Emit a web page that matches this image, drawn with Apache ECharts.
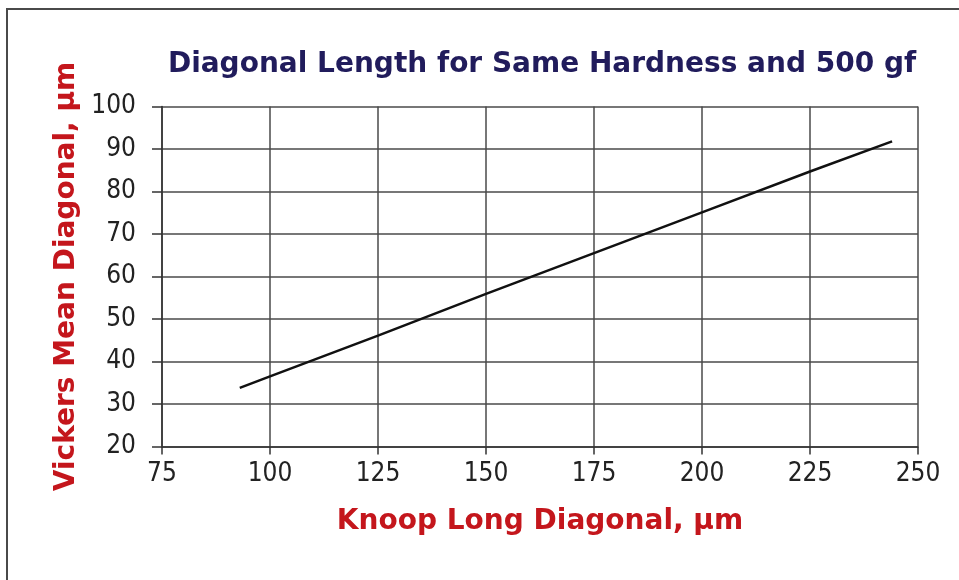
<!DOCTYPE html>
<html>
<head>
<meta charset="utf-8">
<script src="https://cdn.jsdelivr.net/npm/echarts@6/dist/echarts.min.js"></script>
<style>
  html, body { margin: 0; padding: 0; background: #fff; overflow: hidden; }
  #frame {
    position: absolute; left: 6px; top: 8px;
    width: 1000px; height: 1000px;
    border-left: 2px solid #4a4a4a; border-top: 2px solid #4a4a4a;
  }
  #chart { position: absolute; left: 0; top: 0; width: 959px; height: 580px; }
</style>
</head>
<body>
<div id="frame"></div>
<div id="chart"></div>
<script>
// Knoop long diagonal (x) vs Vickers mean diagonal (y), both in µm
var knoop = [93, 100, 125, 150, 175, 200, 225, 244];
var vickers = [33.8, 36.5, 46.1, 55.9, 65.5, 75.1, 84.7, 91.8];

var xTicks = [75, 100, 125, 150, 175, 200, 225, 250];
var yTicks = [20, 30, 40, 50, 60, 70, 80, 90, 100];

var chart = echarts.init(document.getElementById("chart"));

var points = knoop.map(function (k, i) { return [k, vickers[i]]; });

var labelFont = "'DejaVu Sans Condensed', 'Liberation Sans', sans-serif";
var gridLine = { show: true, lineStyle: { color: "#4a4a4a", width: 1.5 } };

var option = {
  animation: false,
  backgroundColor: "transparent",
  title: {
    text: "Diagonal Length for Same Hardness and 500 gf",
    left: 537,
    top: 46,
    textAlign: "center",
    textStyle: {
      fontFamily: "DejaVu Sans",
      fontWeight: "bold",
      fontSize: 28,
      color: "#211c5c"
    }
  },
  grid: { left: 162, right: 41, top: 106.5, bottom: 133.5 },
  xAxis: {
    type: "value",
    min: xTicks[0],
    max: xTicks[xTicks.length - 1],
    interval: 25,
    name: "Knoop Long Diagonal, μm",
    nameLocation: "middle",
    nameGap: 61,
    nameTextStyle: {
      fontFamily: "DejaVu Sans",
      fontWeight: "bold",
      fontSize: 28,
      color: "#c4161c"
    },
    axisLine: { show: true, lineStyle: { color: "#333", width: 1.5 } },
    axisTick: { show: true, length: 8, lineStyle: { color: "#333", width: 1.5 } },
    axisLabel: { margin: 15, fontFamily: labelFont, fontSize: 26, color: "#222" },
    splitLine: gridLine
  },
  yAxis: {
    type: "value",
    min: yTicks[0],
    max: yTicks[yTicks.length - 1],
    interval: 10,
    name: "Vickers Mean Diagonal, μm",
    nameLocation: "middle",
    nameGap: 81,
    nameTextStyle: {
      fontFamily: "DejaVu Sans",
      fontWeight: "bold",
      fontSize: 28,
      color: "#c4161c"
    },
    axisLine: { show: true, lineStyle: { color: "#333", width: 1.5 } },
    axisTick: { show: true, length: 10, lineStyle: { color: "#333", width: 1.5 } },
    axisLabel: { margin: 26, fontFamily: labelFont, fontSize: 26, color: "#222" },
    splitLine: gridLine
  },
  series: [
    {
      type: "line",
      data: points,
      showSymbol: false,
      smooth: false,
      lineStyle: { color: "#111", width: 2.5 }
    }
  ]
};

chart.setOption(option);
</script>
</body>
</html>
